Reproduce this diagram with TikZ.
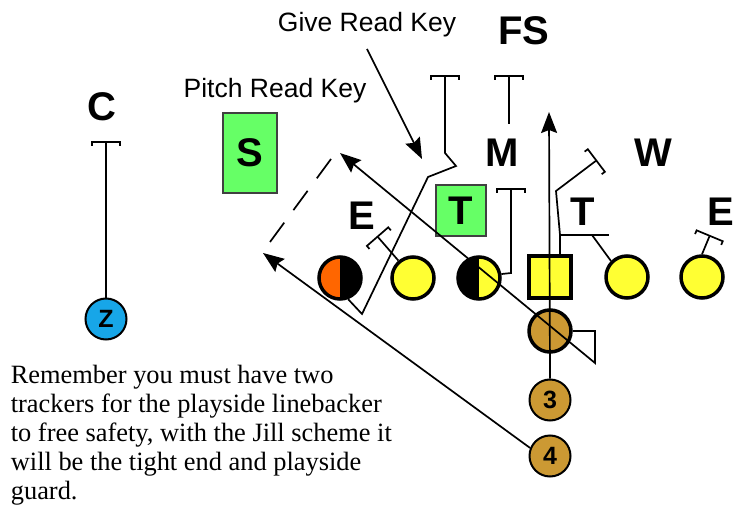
\documentclass[tikz,border=0pt]{standalone}
\usepackage{fontspec}
\setmainfont{Liberation Serif}
\newfontfamily\arial{Liberation Sans}
\usetikzlibrary{arrows.meta}
\definecolor{plyellow}{HTML}{FFFF33}
\definecolor{plorange}{HTML}{FF6600}
\definecolor{ballgold}{HTML}{CC9933}
\definecolor{zblue}{HTML}{17A6E8}
\definecolor{keygreen}{HTML}{66FF66}
\definecolor{keyedge}{HTML}{404040}
\begin{document}
\begin{tikzpicture}[x=1pt, y=-1pt, line width=1.7pt,
  player/.style={circle, draw, line width=3.5pt, minimum size=42pt, inner sep=0pt, fill=plyellow},
  centerbox/.style={rectangle, draw, line width=3.5pt, minimum size=42pt, inner sep=0pt, fill=plyellow},
  back/.style={circle, draw, line width=2pt, minimum size=41pt, inner sep=0pt, fill=ballgold,
    font=\arial\bfseries\fontsize{25}{25}\selectfont},
  keybox/.style={rectangle, draw=keyedge, line width=1.5pt, fill=keygreen, inner sep=0pt,
    font=\arial\bfseries\fontsize{40}{40}\selectfont},
  defender/.style={font=\arial\bfseries\fontsize{40}{40}\selectfont, inner sep=0pt, anchor=base},
  keylabel/.style={font=\arial\fontsize{26.5}{28}\selectfont, inner sep=0pt, anchor=base},
  block/.style={-{Bracket[width=30pt,length=4pt]}},
  route/.style={-{Stealth[length=21pt,width=16pt,inset=3pt]}},
]
\useasboundingbox (0,0) rectangle (735,510);

% defenders
\node[defender] (lblC)  at (102,121) {C};
\node[defender] (lblFS) at (524,45)  {FS};
\node[defender] (lblM)  at (502,167) {M};
\node[defender] (lblW)  at (653,167) {W};
\node[defender] (lblEl) at (362,230) {E};
\node[defender] (lblT)  at (583,226) {T};
\node[defender, anchor=base east] (lblEr) at (735,226) {E};
\node[keybox, minimum width=54pt, minimum height=80pt] (keyS) at (250,153) {S};
\node[keybox, minimum width=50pt, minimum height=51pt] (keyT) at (461,210.5) {T};

% read key labels
\node[keylabel] (giveKey)  at (367,32) {Give Read Key};
\node[keylabel] (pitchKey) at (275,98) {Pitch Read Key};

% offense
\node[player, fill=plorange, path picture={\fill[black] (path picture bounding box.north) rectangle (path picture bounding box.south east);}] (te) at (340,278) {};
\node[player] (lt) at (413,278) {};
\node[player, path picture={\fill[black] (path picture bounding box.north west) rectangle (path picture bounding box.south);}] (lg) at (479,278) {};
\node[centerbox] (ctr) at (550,277) {};
\node[player] (rg) at (627,277) {};
\node[player] (rt) at (702,277) {};
\node[player, fill=ballgold] (qb) at (550,331) {};
\node[back] (b3) at (550,400) {3};
\node[back] (b4) at (550,456) {4};
\node[back, fill=zblue] (z) at (106,319) {Z};

% free ends of the routes and blocks
\coordinate (cBlock) at (106,141);
\coordinate (fsBlock) at (445,75);
\coordinate (mRoot) at (509,124);
\coordinate (mBlock) at (509,75);
\coordinate (lgBlock) at (511,188);
\coordinate (wBlock) at (597,160);
\coordinate (eBlock) at (377,236);
\coordinate (rtBlock) at (710,235);
\coordinate (pitchA) at (270,242);
\coordinate (pitchB) at (331,159);
\coordinate (qbPath) at (340,153);
\coordinate (qbRun) at (549,112);
\coordinate (tbPath) at (263,253);
\coordinate (giveStart) at (367,49);
\coordinate (giveEnd) at (422,159);

% blocks
\draw[block] (z.north) -- (cBlock);
\draw[block] (te.-69) -- (362,314) -- (428,177) -- (456,166) -- (445,153) -- (fsBlock);
\draw[block] (mRoot) -- (mBlock);
\draw[block] (lg.10) -- (511,273) -- (lgBlock);
\draw[block] ([xshift=10pt]ctr.north) -- (560,235) -- (556,191) -- (wBlock);
\draw (rg.135) -- (592,235);
\draw (560,235) -- (609,235);
\draw[block] (lt.130) -- (eBlock);
\draw[block] (rt.north) -- (rtBlock);

% routes
\draw[dash pattern=on 24pt off 15.5pt] (pitchA) -- (pitchB);
\draw[route] (qb.east) -- (595,331) -- (595,363) -- (qbPath);
\draw[route] (b3.north) -- (qbRun);
\draw[route] (b4.158) -- (tbPath);
\draw[route] (giveStart) -- (giveEnd);

% coaching note
\node[anchor=north west, inner sep=0pt, align=left, font=\fontsize{26.4}{29}\selectfont] (note) at (10,364)
  {Remember you must have two\\trackers for the playside linebacker\\to free safety, with the Jill scheme it\\will be the tight end and playside\\guard.};
\end{tikzpicture}
\end{document}
